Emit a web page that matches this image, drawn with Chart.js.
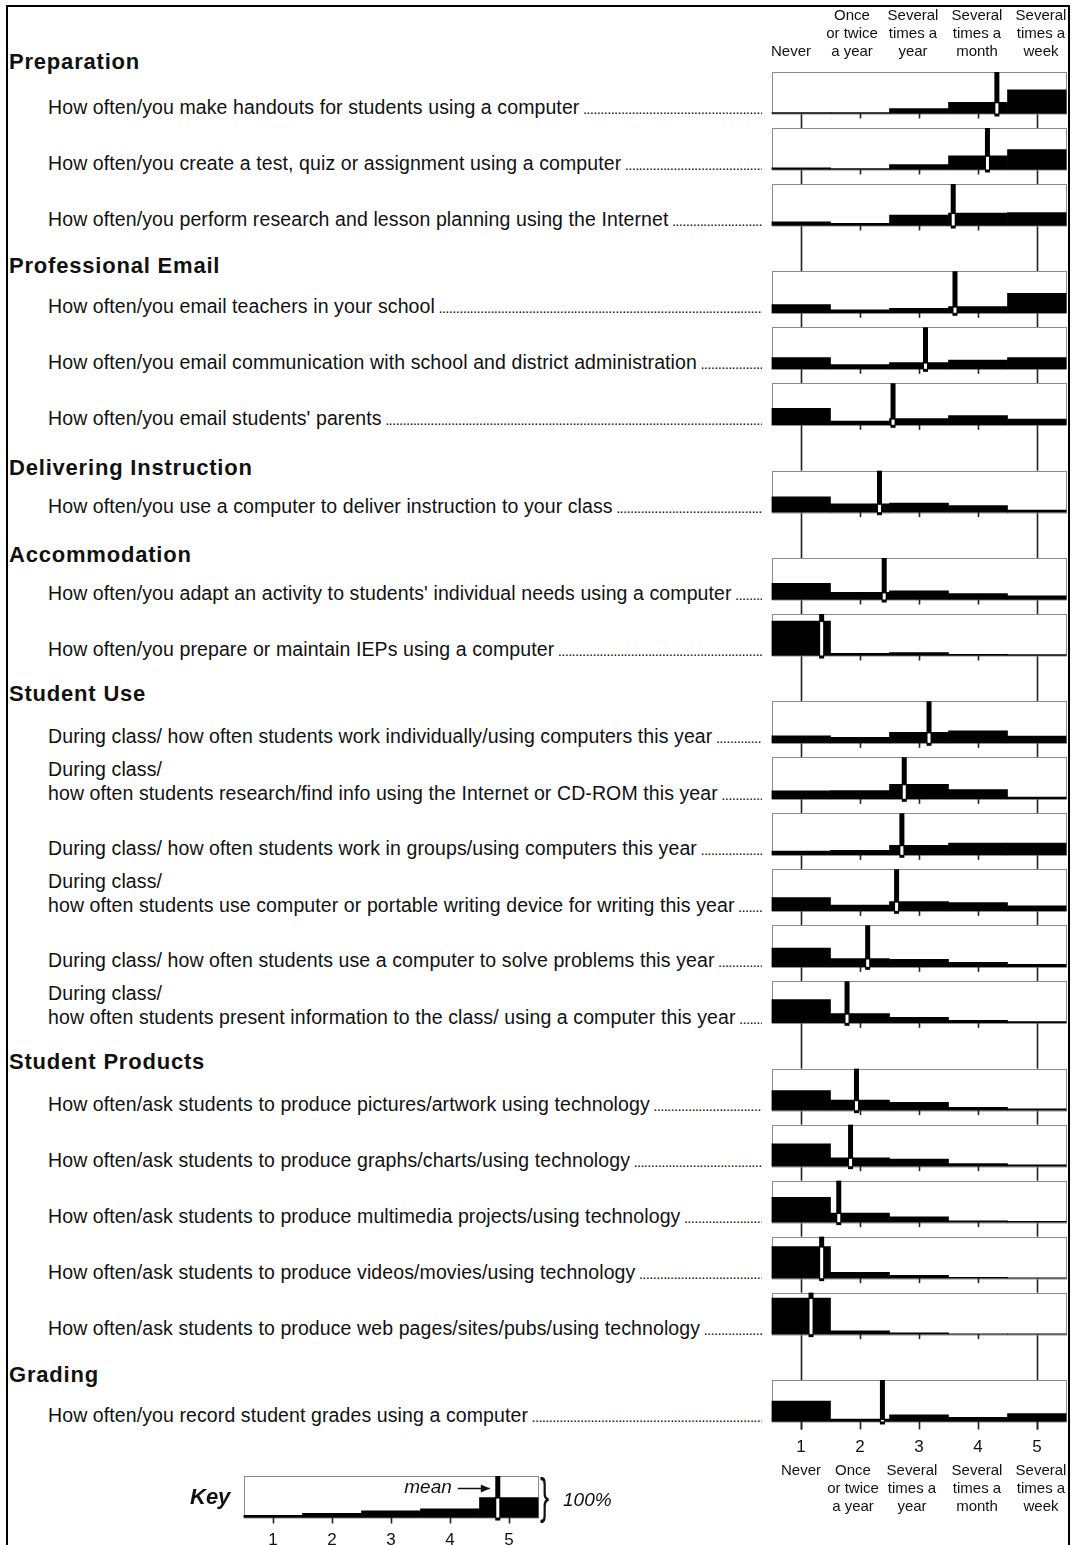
<!DOCTYPE html>
<html>
<head>
<meta charset="utf-8">
<script src="https://cdn.jsdelivr.net/npm/chart.js@4.4.0/dist/chart.umd.min.js"></script>
<style>
  html, body { margin: 0; padding: 0; background: #fff; }
  body { width: 1073px; height: 1545px; position: relative; overflow: hidden;
         font-family: 'Liberation Sans', Arial, sans-serif; color: #111; }
  #frame { position: absolute; left: 6px; top: 5px; width: 1060px; height: 1600px; border: 2px solid #000; }
  .section { position: absolute; left: 9px; font-weight: bold; font-size: 22px; letter-spacing: 0.8px;
             line-height: 26px; white-space: nowrap; }
  .item { position: absolute; left: 48px; width: 714px; font-size: 19.5px; letter-spacing: 0.1px;
          line-height: 24px; white-space: nowrap; overflow: hidden; }
  .dots { font-size: 15px; letter-spacing: -0.7px; }
  canvas { position: absolute; }
  #keyword { position: absolute; left: 190px; top: 1484px; font-size: 22px; font-weight: bold; font-style: italic; line-height: 26px; }
  #brace { position: absolute; left: 540px; top: 1468px; font-size: 50px; font-weight: 300; line-height: 56px; transform: scaleX(0.55); transform-origin: left; }
  #full { position: absolute; left: 563px; top: 1488px; font-size: 19px; font-style: italic; line-height: 24px; }
</style>
</head>
<body>
<div id="frame"></div>
<div id="labels"></div>
<canvas id="main" width="313" height="1545" style="left:760px;top:0;width:313px;height:1545px"></canvas>
<canvas id="key" width="330" height="79" style="left:230px;top:1466px;width:330px;height:79px"></canvas>
<div id="keyword">Key</div>
<div id="brace">}</div>
<div id="full">100%</div>
<script>
var sections = ['Preparation', 'Professional Email', 'Delivering Instruction', 'Accommodation',
  'Student Use', 'Student Products', 'Grading'];

var items = [
  'How often/you make handouts for students using a computer',
  'How often/you create a test, quiz or assignment using a computer',
  'How often/you perform research and lesson planning using the Internet',
  'How often/you email teachers in your school',
  'How often/you email communication with school and district administration',
  "How often/you email students' parents",
  'How often/you use a computer to deliver instruction to your class',
  "How often/you adapt an activity to students' individual needs using a computer",
  'How often/you prepare or maintain IEPs using a computer',
  'During class/ how often students work individually/using computers this year',
  'During class/\nhow often students research/find info using the Internet or CD-ROM this year',
  'During class/ how often students work in groups/using computers this year',
  'During class/\nhow often students use computer or portable writing device for writing this year',
  'During class/ how often students use a computer to solve problems this year',
  'During class/\nhow often students present information to the class/ using a computer this year',
  'How often/ask students to produce pictures/artwork using technology',
  'How often/ask students to produce graphs/charts/using technology',
  'How often/ask students to produce multimedia projects/using technology',
  'How often/ask students to produce videos/movies/using technology',
  'How often/ask students to produce web pages/sites/pubs/using technology',
  'How often/you record student grades using a computer'
];
var itemSection = [0, 0, 0, 1, 1, 1, 2, 3, 3, 4, 4, 4, 4, 4, 4, 5, 5, 5, 5, 5, 6];

// percent of respondents per answer, one array per answer
var never        = [2, 4, 9, 20, 27, 40, 37, 39, 83, 17, 19, 9, 32, 45, 56, 47, 54, 60, 76, 87, 49];
var onceTwice    = [2, 2, 5, 7, 10, 9, 20, 17, 5, 13, 20, 11, 14, 20, 22, 24, 20, 22, 14, 8, 6];
var severalYear  = [12, 12, 25, 11, 15, 15, 22, 21, 7, 25, 35, 23, 22, 18, 13, 19, 17, 13, 7, 3, 16];
var severalMonth = [27, 33, 30, 15, 21, 22, 16, 14, 3, 29, 22, 28, 20, 11, 6, 7, 6, 3, 2, 1, 10];
var severalWeek  = [57, 48, 31, 47, 27, 14, 5, 9, 2, 16, 4, 28, 12, 6, 3, 3, 3, 2, 1, 1, 19];
var means = [4.32, 4.16, 3.58, 3.61, 3.11, 2.56, 2.33, 2.41, 1.35, 3.17, 2.75, 2.71, 2.62,
  2.13, 1.78, 1.94, 1.84, 1.64, 1.35, 1.17, 2.38];

var tickLabels = ['1', '2', '3', '4', '5'];
var answerLines = [['Never'], ['Once', 'or twice', 'a year'], ['Several', 'times a', 'year'],
  ['Several', 'times a', 'month'], ['Several', 'times a', 'week']];

var keyShares = [5, 10, 16, 21, 48];
var keyMean = 4.81;

// layout
var firstTop = 72, rowStep = 56, sectionGap = 87.33, panelH = 41.5;
var headerLift = [10, 5, 3, 3, 7, 7, 5];
var topShift = [-10, -8, -6, -1, 4];
var bottomShift = [0, -7, -7, -1, 4];
var FONT = '"Liberation Sans", Arial, sans-serif';

function rowTop(i) {
  var s = itemSection[i];
  return firstTop + rowStep * (i - s) + sectionGap * s;
}

// left side text
var labels = document.getElementById('labels');
sections.forEach(function (name, s) {
  var first = itemSection.indexOf(s);
  var d = document.createElement('div');
  d.className = 'section';
  d.textContent = name;
  d.style.top = (rowTop(first) - headerLift[s] - 13) + 'px';
  labels.appendChild(d);
});
function addLine(text, top, leader) {
  var d = document.createElement('div');
  d.className = 'item';
  d.style.top = top + 'px';
  d.appendChild(document.createTextNode(text));
  if (leader) {
    var s = document.createElement('span');
    s.className = 'dots';
    s.textContent = ' ' + '.'.repeat(260);
    d.appendChild(s);
  }
  labels.appendChild(d);
}
items.forEach(function (txt, i) {
  var t = rowTop(i);
  var parts = txt.split('\n');
  if (parts.length === 1) {
    addLine(parts[0], t + 23, true);
  } else {
    addLine(parts[0], t, false);
    addLine(parts[1], t + 24, true);
  }
});

function makeRows() {
  return items.map(function (txt, i) {
    var top = rowTop(i);
    return {
      top: top,
      bottom: top + panelH,
      shares: [never[i], onceTwice[i], severalYear[i], severalMonth[i], severalWeek[i]],
      mean: means[i]
    };
  });
}

function barDatasets(rows) {
  return rows.map(function (r) {
    return {
      data: r.shares.map(function (p, k) {
        return { x: k + 1, y: [r.bottom, r.bottom - p / 100 * panelH] };
      }),
      backgroundColor: '#000',
      borderWidth: 0,
      barPercentage: 1,
      categoryPercentage: 1,
      grouped: false
    };
  });
}

function panelPlugin(rows, opts) {
  return {
    id: 'panels',
    beforeDatasetsDraw: function (chart) {
      var ctx = chart.ctx, x = chart.scales.x, y = chart.scales.y;
      var left = x.getPixelForValue(0.5), right = x.getPixelForValue(5.5);
      ctx.save();
      if (opts.guides) {
        ctx.strokeStyle = '#222';
        ctx.lineWidth = 1.6;
        [1, 5].forEach(function (v) {
          var px = Math.round(x.getPixelForValue(v)) + 0.5;
          ctx.beginPath();
          ctx.moveTo(px, y.getPixelForValue(rows[0].bottom));
          ctx.lineTo(px, y.getPixelForValue(rows[rows.length - 1].bottom + 8));
          ctx.stroke();
        });
      }
      rows.forEach(function (r, i) {
        var t = y.getPixelForValue(r.top), b = y.getPixelForValue(r.bottom);
        ctx.fillStyle = '#fff';
        ctx.fillRect(left, t, right - left, b - t);
        ctx.strokeStyle = '#8a8a8a';
        ctx.lineWidth = 1;
        ctx.strokeRect(Math.round(left) + 0.5, Math.round(t) + 0.5, Math.round(right - left) - 1, b - t);
        var last = i === rows.length - 1;
        var len = last ? opts.lastTick : opts.tick;
        ctx.strokeStyle = '#222';
        ctx.lineWidth = 1.6;
        (last || !opts.guides ? [1, 2, 3, 4, 5] : [2, 3, 4]).forEach(function (v) {
          var px = Math.round(x.getPixelForValue(v)) + 0.5;
          ctx.beginPath();
          ctx.moveTo(px, b);
          ctx.lineTo(px, b + len);
          ctx.stroke();
        });
      });
      ctx.restore();
    },
    afterDatasetsDraw: function (chart) {
      var ctx = chart.ctx, x = chart.scales.x, y = chart.scales.y;
      ctx.save();
      rows.forEach(function (r) {
        var mx = x.getPixelForValue(r.mean);
        var k = Math.min(4, Math.max(0, Math.round(r.mean) - 1));
        var t = y.getPixelForValue(r.top), b = y.getPixelForValue(r.bottom);
        var bt = y.getPixelForValue(r.bottom - r.shares[k] / 100 * panelH);
        ctx.fillStyle = '#000';
        ctx.fillRect(mx - 2.5, t, 5, b + 3 - t);
        ctx.fillStyle = '#fff';
        ctx.fillRect(mx - 1.5, bt + 1, 3, b - bt - 1);
      });
      ctx.fillStyle = '#111';
      ctx.textAlign = 'center';
      ctx.textBaseline = 'middle';
      if (opts.header) {
        ctx.font = '15px ' + FONT;
        answerLines.forEach(function (lines, k) {
          var cx = x.getPixelForValue(k + 1) + topShift[k];
          lines.forEach(function (ln, j) {
            ctx.fillText(ln, cx, y.getPixelForValue(opts.header - (lines.length - 1 - j) * 18));
          });
        });
      }
      ctx.font = '17px ' + FONT;
      tickLabels.forEach(function (t, k) {
        ctx.fillText(t, x.getPixelForValue(k + 1), y.getPixelForValue(opts.tickLabelY));
      });
      if (opts.footer) {
        ctx.font = '15px ' + FONT;
        answerLines.forEach(function (lines, k) {
          var cx = x.getPixelForValue(k + 1) + bottomShift[k];
          lines.forEach(function (ln, j) {
            ctx.fillText(ln, cx, y.getPixelForValue(opts.footer + j * 18));
          });
        });
      }
      if (opts.meanNote) {
        var ay = y.getPixelForValue(opts.meanNote);
        var ax = x.getPixelForValue(rows[0].mean) - 8;
        ctx.font = 'italic 19px ' + FONT;
        ctx.textAlign = 'right';
        ctx.fillText('mean', ax - 38, ay);
        ctx.strokeStyle = '#111';
        ctx.lineWidth = 1.3;
        ctx.beginPath();
        ctx.moveTo(ax - 32, ay + 0.5);
        ctx.lineTo(ax, ay + 0.5);
        ctx.stroke();
        ctx.beginPath();
        ctx.moveTo(ax, ay + 0.5);
        ctx.lineTo(ax - 9, ay - 3.5);
        ctx.lineTo(ax - 9, ay + 4.5);
        ctx.closePath();
        ctx.fillStyle = '#111';
        ctx.fill();
      }
      ctx.restore();
    }
  };
}

function buildChart(id, rows, pageTop, height, padL, padR, opts) {
  var ctx = document.getElementById(id).getContext('2d');
  return new Chart(ctx, {
    type: 'bar',
    data: { datasets: barDatasets(rows) },
    options: {
      responsive: false,
      animation: false,
      devicePixelRatio: 1,
      layout: { padding: { left: padL, right: padR, top: 0, bottom: 0 } },
      plugins: { legend: { display: false }, tooltip: { enabled: false }, title: { display: false } },
      scales: {
        x: { type: 'linear', min: 0.5, max: 5.5, offset: false, display: false },
        y: { type: 'linear', min: pageTop, max: pageTop + height, reverse: true, display: false }
      }
    },
    plugins: [panelPlugin(rows, opts)]
  });
}

var mainRows = makeRows();
buildChart('main', mainRows, 0, 1545, 11.5, 6.5, {
  guides: true, tick: 5, lastTick: 8, header: 52, tickLabelY: 1447, footer: 1471
});

var keyTop = 1476;
var keyRows = [{ top: keyTop, bottom: keyTop + panelH, shares: keyShares, mean: keyMean }];
buildChart('key', keyRows, 1466, 79, 13.5, 21.5, {
  guides: false, tick: 6, lastTick: 6, tickLabelY: 1540, meanNote: 1488
});
</script>
</body>
</html>
